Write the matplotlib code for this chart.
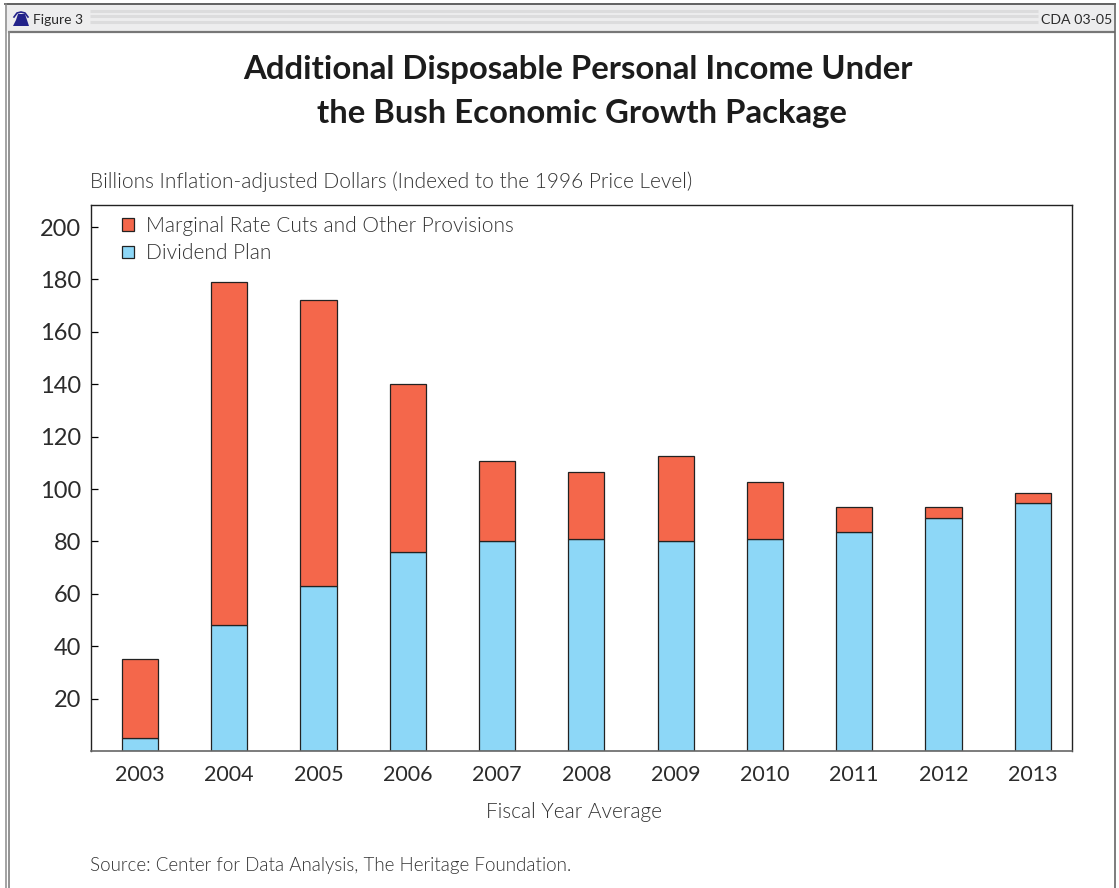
import matplotlib
matplotlib.use("Agg")
import matplotlib.pyplot as plt
from matplotlib.patches import Rectangle, Polygon
import numpy as np

years = [2003, 2004, 2005, 2006, 2007, 2008, 2009, 2010, 2011, 2012, 2013]
dividend_plan = [5, 48, 63, 76, 80, 81, 80, 81, 83.5, 89, 94.5]
marginal_cuts = [30, 131, 109, 64, 30.5, 25.5, 32.5, 21.5, 9.5, 4, 4]
y_ticks = [20, 40, 60, 80, 100, 120, 140, 160, 180, 200]

W, H = 1119, 888
RED = "#F4674B"
BLUE = "#8DD7F7"
INK = "#2b2b2b"
FONT = "Lato"
LIGHT = 300

fig = plt.figure(figsize=(W / 100, H / 100), dpi=100, facecolor="white")

# Overlay in pixel coordinates for the page furniture
page = fig.add_axes([0, 0, 1, 1], zorder=0)
page.set_xlim(0, W)
page.set_ylim(H, 0)
page.axis("off")

# Header band and outer frame
page.add_patch(Rectangle((5, 5), 1109, 26, fc="#ededee", ec="none"))
page.plot([5, 1115], [4.5, 4.5], color="#555555", lw=1.3)
for y in (11, 16.5, 22.5):
    page.plot([90, 1038], [y, y], color="#dcdcdd", lw=2.2, solid_capstyle="butt")
page.plot([8.5, 1114], [32, 32], color="#777777", lw=1.6)
page.plot([5.5, 5.5], [4, H], color="#8a8a8a", lw=1.1)
page.plot([8.5, 8.5], [32, H], color="#8a8a8a", lw=1.3)
page.plot([1114.5, 1114.5], [4, H], color="#666666", lw=1.2)

# Small bell emblem
page.add_patch(Polygon([[13, 26], [16, 20], [18, 14], [25, 14], [27, 20], [29, 26]],
                       fc="#22228a", ec="none"))
page.plot([14, 17, 21, 25, 28], [17, 13, 12, 13, 17], color="#22228a", lw=1.2)

page.text(33, 20.5, "Figure 3", fontsize=10, family=FONT, color=INK, va="center", ha="left")
page.text(1112, 20.5, "CDA 03-05", fontsize=10.2, family=FONT, color=INK, va="center", ha="right")

# Title
page.text(578, 70, "Additional Disposable Personal Income Under", fontsize=23.7,
          family="Lato", weight="bold", color="#1c1c1c", ha="center", va="center")
page.text(582, 114, "the Bush Economic Growth Package", fontsize=23.7,
          family="Lato", weight="bold", color="#1c1c1c", ha="center", va="center")

page.text(90, 181.5, "Billions Inflation-adjusted Dollars (Indexed to the 1996 Price Level)",
          fontsize=15, family=FONT, weight=LIGHT, color="#333333", ha="left", va="center")
page.text(574, 811.5, "Fiscal Year Average", fontsize=15, family=FONT, weight=LIGHT,
          color="#333333", ha="center", va="center")
page.text(90, 865, "Source: Center for Data Analysis, The Heritage Foundation.",
          fontsize=13.5, family=FONT, weight=LIGHT, color="#333333", ha="left", va="center")

# Chart axes
left, right, top, bottom = 91, 1072, 205, 751
ax = fig.add_axes([left / W, 1 - bottom / H, (right - left) / W, (bottom - top) / H], zorder=1)
ax.set_facecolor("white")

x = np.arange(len(years))
edge = dict(edgecolor="#222222", linewidth=0.9)
ax.bar(x, dividend_plan, width=0.405, color=BLUE, label="Dividend Plan", **edge)
ax.bar(x, marginal_cuts, width=0.405, bottom=dividend_plan, color=RED,
       label="Marginal Rate Cuts and Other Provisions", **edge)

ax.set_xlim(-0.549, 10.44)
ax.set_ylim(0, 208.4)
ax.set_xticks(x, [str(v) for v in years])
ax.set_yticks(y_ticks, [str(v) for v in y_ticks])
ax.tick_params(axis="x", length=0, pad=10, labelsize=15.5, labelcolor=INK)
ax.tick_params(axis="y", direction="in", length=5, width=0.9, pad=7, labelsize=17, labelcolor=INK)
for lab in ax.get_xticklabels() + ax.get_yticklabels():
    lab.set_family(FONT)
for spine in ax.spines.values():
    spine.set_linewidth(1.0)
    spine.set_color("#222222")
ax.spines["bottom"].set_color("#666666")
ax.spines["bottom"].set_linewidth(1.2)

handles, labels = ax.get_legend_handles_labels()
leg = ax.legend(handles[::-1], labels[::-1], loc="upper left", bbox_to_anchor=(0.0255, 0.991),
                frameon=False, handlelength=0.56, handleheight=0.56,
                handletextpad=0.58, labelspacing=0.36, borderaxespad=0, borderpad=0.28,
                prop={"family": FONT, "weight": LIGHT, "size": 15})
for t in leg.get_texts():
    t.set_color("#333333")

fig.savefig("out.png", dpi=100, facecolor="white")
